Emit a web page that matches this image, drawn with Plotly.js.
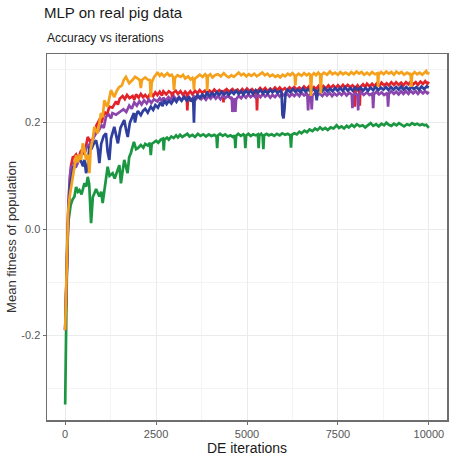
<!DOCTYPE html>
<html>
<head>
<meta charset="utf-8">
<script src="https://cdn.plot.ly/plotly-3.0.1.min.js"></script>
<style>html,body{margin:0;padding:0;background:#fff;}#chart{width:462px;height:461px;}</style>
</head>
<body>
<div id="chart"></div>
<script>
// ---- DATA: [DE iteration, mean fitness] ----
const greenPoints = [[0,-0.33],[25,-0.2],[30,-0.12],[45,-0.05],[60,-0.01],[80,0.01],[110,0.03],[150,0.045],[200,0.055],[255,0.061],[300,0.079],[350,0.07],[392,0.073],[450,0.065],[529,0.086],[580,0.08],[620,0.098],[660,0.085],[712,0.011],[760,0.06],[803,0.067],[850,0.075],[940,0.061],[990,0.07],[1031,0.049],[1080,0.075],[1122,0.092],[1168,0.117],[1220,0.1],[1305,0.105],[1360,0.095],[1442,0.111],[1490,0.12],[1533,0.086],[1580,0.115],[1624,0.13],[1716,0.105],[1760,0.135],[1807,0.143],[1890,0.164],[1950,0.15],[2000,0.152],[2080,0.158],[2150,0.153],[2200,0.16],[2270,0.157],[2330,0.162],[2354,0.139],[2380,0.16],[2450,0.163],[2500,0.166],[2560,0.162],[2628,0.168],[2690,0.17],[2711,0.148],[2730,0.168],[2800,0.172],[2850,0.168],[2920,0.174],[2985,0.171],[3050,0.176],[3100,0.172],[3160,0.177],[3220,0.173],[3280,0.176],[3359,0.179],[3420,0.174],[3500,0.177],[3570,0.173],[3650,0.179],[3720,0.175],[3800,0.178],[3870,0.174],[3950,0.178],[4020,0.175],[4100,0.177],[4160,0.174],[4180,0.152],[4200,0.176],[4260,0.179],[4330,0.175],[4400,0.178],[4470,0.174],[4544,0.176],[4610,0.173],[4660,0.176],[4681,0.152],[4700,0.175],[4760,0.179],[4830,0.175],[4900,0.178],[4935,0.175],[4955,0.152],[4975,0.176],[5040,0.179],[5100,0.175],[5170,0.178],[5240,0.176],[5300,0.178],[5320,0.152],[5340,0.176],[5390,0.179],[5430,0.175],[5450,0.15],[5470,0.176],[5540,0.179],[5600,0.176],[5680,0.178],[5750,0.175],[5820,0.179],[5900,0.176],[5970,0.18],[6050,0.177],[6120,0.179],[6190,0.176],[6210,0.153],[6230,0.177],[6300,0.18],[6370,0.178],[6440,0.183],[6500,0.18],[6580,0.185],[6650,0.182],[6720,0.187],[6800,0.184],[6870,0.189],[6940,0.186],[7008,0.191],[7080,0.187],[7150,0.19],[7220,0.186],[7300,0.191],[7380,0.189],[7465,0.195],[7530,0.19],[7600,0.193],[7670,0.189],[7740,0.194],[7800,0.191],[7880,0.196],[7950,0.192],[8020,0.197],[8100,0.193],[8180,0.195],[8250,0.191],[8330,0.196],[8400,0.199],[8470,0.194],[8550,0.197],[8620,0.193],[8700,0.198],[8770,0.195],[8833,0.2],[8900,0.196],[8970,0.194],[9040,0.198],[9110,0.195],[9180,0.199],[9250,0.196],[9320,0.193],[9400,0.197],[9470,0.195],[9540,0.199],[9610,0.196],[9680,0.198],[9750,0.195],[9820,0.197],[9880,0.195],[9929,0.196],[9970,0.193],[10000,0.19]];

const redPoints = [[0,-0.19],[30,-0.1],[60,-0.02],[90,0.04],[130,0.09],[164,0.12],[210,0.135],[255,0.136],[300,0.14],[365,0.13],[420,0.145],[480,0.15],[530,0.14],[575,0.16],[620,0.173],[680,0.165],[757,0.167],[800,0.18],[860,0.195],[940,0.205],[1000,0.2],[1080,0.22],[1150,0.215],[1214,0.23],[1300,0.228],[1400,0.24],[1450,0.234],[1500,0.245],[1579,0.25],[1640,0.244],[1700,0.252],[1770,0.246],[1853,0.25],[1900,0.243],[1950,0.253],[2020,0.247],[2080,0.254],[2140,0.248],[2200,0.252],[2270,0.246],[2350,0.256],[2420,0.25],[2480,0.257],[2537,0.252],[2600,0.258],[2660,0.251],[2700,0.259],[2780,0.253],[2850,0.259],[2930,0.255],[2948,0.238],[2970,0.256],[3040,0.26],[3100,0.254],[3170,0.259],[3240,0.252],[3300,0.258],[3340,0.255],[3359,0.223],[3380,0.254],[3440,0.259],[3500,0.253],[3570,0.26],[3640,0.255],[3700,0.261],[3770,0.256],[3840,0.26],[3900,0.254],[3970,0.26],[4040,0.256],[4100,0.262],[4170,0.257],[4240,0.261],[4300,0.257],[4340,0.26],[4353,0.238],[4370,0.259],[4440,0.263],[4510,0.258],[4600,0.263],[4670,0.258],[4740,0.262],[4800,0.257],[4870,0.263],[4940,0.258],[5000,0.264],[5070,0.259],[5140,0.263],[5200,0.258],[5255,0.262],[5275,0.223],[5295,0.26],[5360,0.265],[5430,0.26],[5500,0.265],[5570,0.259],[5640,0.264],[5700,0.26],[5770,0.266],[5840,0.261],[5900,0.266],[5970,0.261],[6040,0.265],[6100,0.26],[6170,0.266],[6240,0.262],[6300,0.267],[6370,0.262],[6440,0.266],[6500,0.262],[6570,0.268],[6640,0.263],[6700,0.268],[6770,0.263],[6840,0.267],[6900,0.263],[6970,0.269],[7040,0.264],[7100,0.269],[7170,0.264],[7240,0.27],[7300,0.265],[7370,0.27],[7440,0.265],[7500,0.27],[7570,0.265],[7640,0.271],[7700,0.266],[7770,0.271],[7840,0.266],[7900,0.27],[7950,0.267],[7966,0.23],[7990,0.265],[8040,0.27],[8080,0.266],[8100,0.232],[8120,0.267],[8190,0.272],[8250,0.267],[8300,0.273],[8370,0.268],[8440,0.273],[8500,0.268],[8570,0.274],[8640,0.269],[8700,0.275],[8770,0.27],[8840,0.274],[8900,0.27],[8970,0.276],[9040,0.271],[9100,0.276],[9170,0.271],[9240,0.275],[9300,0.27],[9370,0.276],[9440,0.272],[9500,0.277],[9570,0.272],[9640,0.276],[9700,0.271],[9770,0.277],[9840,0.273],[9900,0.278],[9960,0.273],[10000,0.277]];

const purplePoints = [[0,-0.19],[30,-0.1],[60,-0.02],[90,0.05],[130,0.1],[164,0.117],[230,0.115],[300,0.117],[380,0.13],[440,0.14],[484,0.148],[540,0.145],[600,0.155],[680,0.16],[760,0.17],[849,0.18],[920,0.185],[1000,0.195],[1060,0.19],[1122,0.211],[1200,0.215],[1260,0.208],[1300,0.218],[1400,0.215],[1500,0.22],[1600,0.225],[1680,0.22],[1761,0.232],[1830,0.226],[1900,0.238],[1970,0.232],[2040,0.24],[2100,0.234],[2170,0.242],[2240,0.236],[2300,0.243],[2370,0.237],[2440,0.244],[2537,0.24],[2600,0.246],[2660,0.24],[2700,0.247],[2770,0.241],[2840,0.248],[2910,0.243],[2993,0.249],[3060,0.243],[3130,0.248],[3200,0.242],[3270,0.249],[3340,0.243],[3400,0.248],[3470,0.242],[3540,0.249],[3600,0.244],[3670,0.25],[3740,0.244],[3800,0.249],[3870,0.243],[3940,0.25],[4000,0.245],[4070,0.251],[4140,0.245],[4200,0.25],[4270,0.244],[4340,0.251],[4400,0.246],[4470,0.25],[4540,0.246],[4580,0.248],[4600,0.22],[4630,0.236],[4660,0.246],[4680,0.22],[4700,0.244],[4770,0.25],[4840,0.246],[4900,0.252],[4970,0.247],[5040,0.253],[5100,0.248],[5170,0.252],[5240,0.247],[5300,0.253],[5370,0.248],[5440,0.254],[5500,0.249],[5570,0.253],[5640,0.247],[5700,0.252],[5770,0.248],[5840,0.254],[5900,0.249],[5970,0.254],[6040,0.25],[6100,0.255],[6170,0.249],[6240,0.254],[6300,0.25],[6370,0.255],[6440,0.25],[6500,0.256],[6570,0.251],[6640,0.255],[6660,0.252],[6680,0.223],[6700,0.249],[6740,0.254],[6760,0.251],[6780,0.225],[6800,0.251],[6870,0.256],[6940,0.251],[7000,0.255],[7070,0.25],[7140,0.256],[7200,0.251],[7270,0.256],[7340,0.25],[7400,0.255],[7470,0.251],[7540,0.256],[7600,0.252],[7670,0.257],[7740,0.251],[7810,0.256],[7880,0.253],[7900,0.227],[7920,0.25],[7980,0.255],[8040,0.252],[8057,0.223],[8075,0.252],[8140,0.257],[8210,0.252],[8300,0.257],[8370,0.252],[8450,0.255],[8470,0.227],[8490,0.253],[8560,0.258],[8630,0.253],[8700,0.257],[8770,0.252],[8860,0.256],[8880,0.23],[8900,0.254],[8970,0.259],[9040,0.254],[9100,0.258],[9170,0.253],[9240,0.259],[9300,0.254],[9370,0.259],[9440,0.254],[9500,0.26],[9570,0.255],[9640,0.259],[9700,0.254],[9770,0.26],[9840,0.255],[9900,0.259],[9960,0.255],[10000,0.258]];

const bluePoints = [[0,-0.19],[30,-0.11],[60,-0.03],[90,0.03],[130,0.08],[170,0.1],[210,0.11],[260,0.125],[300,0.13],[360,0.128],[420,0.13],[490,0.118],[530,0.13],[575,0.105],[620,0.12],[666,0.155],[720,0.15],[780,0.16],[849,0.167],[900,0.15],[940,0.124],[990,0.16],[1060,0.175],[1122,0.18],[1168,0.145],[1214,0.13],[1260,0.17],[1350,0.192],[1400,0.175],[1450,0.161],[1520,0.19],[1624,0.205],[1680,0.185],[1720,0.173],[1780,0.2],[1853,0.211],[1890,0.218],[1920,0.2],[1960,0.215],[2000,0.222],[2080,0.214],[2140,0.222],[2200,0.226],[2270,0.219],[2354,0.23],[2420,0.224],[2480,0.233],[2550,0.228],[2620,0.238],[2680,0.231],[2720,0.242],[2790,0.235],[2850,0.241],[2920,0.236],[2993,0.245],[3060,0.239],[3130,0.247],[3200,0.241],[3270,0.248],[3340,0.242],[3400,0.249],[3450,0.24],[3520,0.246],[3541,0.2],[3560,0.244],[3630,0.251],[3700,0.246],[3770,0.253],[3840,0.248],[3906,0.256],[3970,0.25],[4040,0.256],[4100,0.251],[4170,0.257],[4240,0.252],[4300,0.258],[4370,0.253],[4440,0.257],[4500,0.252],[4570,0.259],[4640,0.254],[4700,0.26],[4770,0.254],[4840,0.259],[4900,0.253],[4970,0.26],[5040,0.255],[5100,0.26],[5170,0.254],[5240,0.261],[5300,0.256],[5370,0.261],[5440,0.255],[5500,0.26],[5570,0.255],[5640,0.262],[5700,0.257],[5770,0.261],[5840,0.256],[5920,0.26],[5950,0.256],[5975,0.215],[6004,0.208],[6030,0.225],[6060,0.256],[6120,0.262],[6190,0.257],[6260,0.263],[6330,0.258],[6400,0.262],[6470,0.257],[6540,0.264],[6610,0.258],[6680,0.263],[6750,0.258],[6820,0.263],[6890,0.259],[6917,0.242],[6935,0.258],[7000,0.264],[7070,0.259],[7140,0.265],[7210,0.259],[7280,0.264],[7350,0.259],[7420,0.265],[7490,0.26],[7560,0.265],[7630,0.26],[7700,0.266],[7770,0.26],[7840,0.265],[7910,0.26],[7980,0.266],[8050,0.261],[8120,0.266],[8190,0.26],[8260,0.265],[8330,0.26],[8400,0.266],[8470,0.261],[8540,0.267],[8610,0.261],[8680,0.266],[8750,0.262],[8820,0.267],[8890,0.261],[8960,0.267],[9030,0.262],[9100,0.267],[9170,0.262],[9240,0.268],[9310,0.262],[9380,0.267],[9450,0.262],[9520,0.268],[9590,0.263],[9660,0.267],[9730,0.262],[9800,0.268],[9870,0.263],[9940,0.268],[10000,0.266]];

const orangePoints = [[0,-0.19],[20,-0.12],[40,-0.05],[60,0.0],[80,0.03],[120,0.06],[170,0.08],[210,0.092],[255,0.117],[300,0.139],[350,0.125],[400,0.14],[438,0.13],[484,0.161],[530,0.15],[575,0.13],[620,0.14],[666,0.105],[700,0.15],[760,0.17],[803,0.192],[850,0.185],[894,0.18],[940,0.2],[985,0.218],[1030,0.21],[1077,0.242],[1120,0.235],[1168,0.23],[1210,0.245],[1259,0.261],[1300,0.255],[1350,0.248],[1420,0.26],[1487,0.267],[1560,0.27],[1610,0.28],[1670,0.286],[1720,0.28],[1761,0.274],[1850,0.28],[1920,0.286],[1990,0.283],[2050,0.28],[2080,0.265],[2110,0.28],[2200,0.285],[2270,0.281],[2330,0.28],[2354,0.248],[2380,0.275],[2445,0.286],[2500,0.29],[2537,0.295],[2600,0.288],[2650,0.292],[2720,0.287],[2811,0.293],[2870,0.288],[2930,0.29],[2970,0.285],[2993,0.261],[3020,0.284],[3090,0.289],[3176,0.286],[3240,0.29],[3300,0.283],[3380,0.287],[3450,0.281],[3500,0.284],[3525,0.28],[3541,0.262],[3560,0.282],[3630,0.287],[3700,0.29],[3780,0.286],[3850,0.291],[3890,0.288],[3906,0.26],[3925,0.287],[3990,0.291],[4050,0.285],[4120,0.289],[4200,0.291],[4280,0.287],[4362,0.293],[4430,0.288],[4500,0.285],[4570,0.289],[4640,0.286],[4700,0.29],[4770,0.294],[4840,0.289],[4910,0.292],[4980,0.287],[5050,0.291],[5120,0.288],[5200,0.292],[5270,0.287],[5350,0.291],[5420,0.294],[5490,0.289],[5560,0.292],[5630,0.287],[5700,0.29],[5780,0.286],[5850,0.289],[5913,0.285],[5980,0.29],[6050,0.287],[6120,0.292],[6187,0.289],[6250,0.293],[6310,0.289],[6330,0.27],[6350,0.288],[6420,0.292],[6500,0.288],[6570,0.293],[6640,0.289],[6700,0.292],[6740,0.29],[6760,0.25],[6780,0.288],[6840,0.293],[6900,0.289],[6960,0.294],[7010,0.29],[7030,0.255],[7050,0.29],[7120,0.294],[7200,0.29],[7282,0.296],[7350,0.291],[7420,0.294],[7500,0.29],[7570,0.295],[7640,0.291],[7710,0.294],[7800,0.29],[7870,0.295],[7940,0.291],[8013,0.296],[8080,0.292],[8150,0.295],[8220,0.29],[8300,0.294],[8370,0.29],[8440,0.295],[8520,0.291],[8590,0.293],[8605,0.267],[8620,0.29],[8690,0.295],[8760,0.291],[8830,0.296],[8900,0.292],[8970,0.295],[9040,0.29],[9107,0.296],[9180,0.292],[9250,0.295],[9320,0.29],[9400,0.294],[9470,0.291],[9500,0.293],[9519,0.267],[9540,0.29],[9610,0.295],[9680,0.291],[9750,0.294],[9820,0.29],[9880,0.294],[9929,0.297],[9970,0.291],[10000,0.295]];

const seriesColors = ['#1b9641', '#e2232c', '#8b45ad', '#2f3f9d', '#f5a11c'];
const xTickVals = [0, 2500, 5000, 7500, 10000];
const xTickText = ["0", "2500", "5000", "7500", "10000"];
const yTickVals = [-0.2, 0.0, 0.2];
const yTickText = ["-0.2", "0.0", "0.2"];

const FONT = "Liberation Sans, Arial, sans-serif";
function tr(points, c){
  return {x: points.map(p => p[0]), y: points.map(p => p[1]), type:'scatter', mode:'lines',
          line:{color:c, width:2.7}, hoverinfo:'skip', showlegend:false};
}

const data = [
  tr(greenPoints, seriesColors[0]),
  tr(redPoints, seriesColors[1]),
  tr(purplePoints, seriesColors[2]),
  tr(bluePoints, seriesColors[3]),
  tr(orangePoints, seriesColors[4])
];

const layout = {
  width:462, height:461,
  margin:{l:47, r:15, t:54, b:41},
  paper_bgcolor:'#fff', plot_bgcolor:'#fff',
  font:{family:FONT, color:'#4d4d4d'},
  title:{text:'MLP on real pig data', x:44/462, xanchor:'left', xref:'container', y:1-13/461, yanchor:'middle', yref:'container', font:{family:FONT, size:15, color:'#1a1a1a'}},
  annotations:[{text:'Accuracy vs iterations', xref:'paper', yref:'paper', x:-0.006, xanchor:'left', y:(420-38)/366, yanchor:'middle', showarrow:false, font:{family:FONT, size:12, color:'#1a1a1a'}}],
  xaxis:{
    range:[-500,10500], tickvals:xTickVals, ticktext:xTickText, zeroline:false,
    showline:true, mirror:true, linecolor:'#6e6e6e', linewidth:1.5,
    ticks:'outside', ticklen:3, tickcolor:'#6e6e6e',
    showgrid:true, gridcolor:'#ebebeb', gridwidth:1,
    minor:{tickvals:[1250,3750,6250,8750], showgrid:true, gridcolor:'#f4f4f4', gridwidth:1},
    tickfont:{family:FONT, size:11, color:'#555'},
    title:{text:'DE iterations', standoff:4, font:{family:FONT, size:14, color:'#1a1a1a'}}
  },
  yaxis:{
    range:[-0.359,0.329], tickvals:yTickVals, ticktext:yTickText, zeroline:false,
    showline:true, mirror:true, linecolor:'#6e6e6e', linewidth:1.5,
    ticks:'outside', ticklen:3, tickcolor:'#6e6e6e',
    showgrid:true, gridcolor:'#ebebeb', gridwidth:1,
    minor:{tickvals:[-0.3,-0.1,0.1,0.3], showgrid:true, gridcolor:'#f4f4f4', gridwidth:1},
    tickfont:{family:FONT, size:11, color:'#555'},
    title:{text:'Mean fitness of population', standoff:2, font:{family:FONT, size:13, color:'#333'}}
  }
};

Plotly.newPlot('chart', data, layout, {staticPlot:true, displayModeBar:false});
</script>
</body>
</html>
